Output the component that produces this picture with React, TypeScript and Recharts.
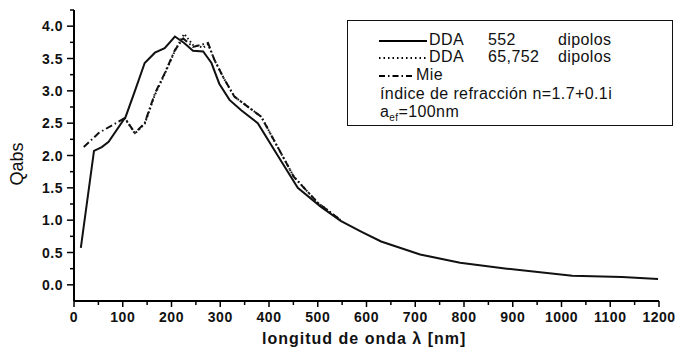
import { LineChart, Line, XAxis, YAxis } from "recharts";

// DDA 552 dipolos (solid)
const dda552 = [
  { x: 14, y: 0.57 }, { x: 41, y: 2.07 }, { x: 57, y: 2.13 }, { x: 71, y: 2.21 },
  { x: 106, y: 2.6 }, { x: 125, y: 3.0 }, { x: 145, y: 3.43 }, { x: 166, y: 3.59 },
  { x: 186, y: 3.66 }, { x: 207, y: 3.84 }, { x: 226, y: 3.74 }, { x: 244, y: 3.62 },
  { x: 265, y: 3.61 }, { x: 282, y: 3.43 }, { x: 298, y: 3.11 }, { x: 319, y: 2.86 },
  { x: 343, y: 2.7 }, { x: 377, y: 2.5 }, { x: 421, y: 1.96 }, { x: 459, y: 1.5 },
  { x: 506, y: 1.21 }, { x: 547, y: 0.99 }, { x: 590, y: 0.82 }, { x: 630, y: 0.67 },
  { x: 710, y: 0.47 }, { x: 792, y: 0.34 }, { x: 888, y: 0.25 }, { x: 1022, y: 0.14 },
  { x: 1124, y: 0.12 }, { x: 1198, y: 0.09 },
];

// DDA 65,752 dipolos (dotted)
const dda65752 = [
  { x: 104, y: 2.58 }, { x: 125, y: 2.34 }, { x: 145, y: 2.49 }, { x: 166, y: 2.94 },
  { x: 186, y: 3.26 }, { x: 207, y: 3.62 }, { x: 226, y: 3.88 }, { x: 244, y: 3.71 },
  { x: 265, y: 3.67 }, { x: 275, y: 3.72 }, { x: 288, y: 3.48 }, { x: 309, y: 3.17 },
  { x: 329, y: 2.91 }, { x: 384, y: 2.6 }, { x: 451, y: 1.67 }, { x: 500, y: 1.27 },
  { x: 547, y: 1.0 },
];

// Mie (dash-dot)
const mie = [
  { x: 20, y: 2.13 }, { x: 51, y: 2.35 }, { x: 104, y: 2.58 }, { x: 125, y: 2.35 },
  { x: 145, y: 2.5 }, { x: 166, y: 2.96 }, { x: 186, y: 3.27 }, { x: 207, y: 3.63 },
  { x: 224, y: 3.81 }, { x: 244, y: 3.68 }, { x: 275, y: 3.74 }, { x: 288, y: 3.48 },
  { x: 309, y: 3.17 }, { x: 329, y: 2.91 }, { x: 384, y: 2.6 }, { x: 451, y: 1.67 },
  { x: 500, y: 1.27 }, { x: 547, y: 1.0 },
];

const xTicks = [
  0, 50, 100, 150, 200, 250, 300, 350, 400, 450, 500, 550, 600, 650, 700, 750,
  800, 850, 900, 950, 1000, 1050, 1100, 1150, 1200,
];
const yTicks = [
  0, 0.25, 0.5, 0.75, 1, 1.25, 1.5, 1.75, 2, 2.25, 2.5, 2.75, 3, 3.25, 3.5, 3.75, 4, 4.25,
];

const font = "'Liberation Sans', Arial, sans-serif";

const XTick = (props: any) => {
  const { x, y, payload } = props;
  const major = payload.value % 100 === 0;
  return (
    <g>
      <line x1={x} x2={x} y1={y} y2={y + (major ? 6 : 4)} stroke="#000" strokeWidth={1.5} />
      {major && (
        <text x={x} y={y + 21} textAnchor="middle" fontSize={14} fontWeight="bold" fontFamily={font} fill="#111" letterSpacing={0.5}>
          {payload.value}
        </text>
      )}
    </g>
  );
};

const YTick = (props: any) => {
  const { x, y, payload } = props;
  const major = Math.abs((payload.value * 2) % 1) < 1e-6 && payload.value <= 4;
  return (
    <g>
      <line x1={x} x2={x - (major ? 7 : 4)} y1={y} y2={y} stroke="#000" strokeWidth={1.5} />
      {major && (
        <text x={x - 11} y={y + 5} textAnchor="end" fontSize={14} fontWeight="bold" fontFamily={font} fill="#111" letterSpacing={0.5}>
          {payload.value.toFixed(1)}
        </text>
      )}
    </g>
  );
};

const LegendBox = () => {
  const row = (top: number) => ({ position: "absolute" as const, top, left: 0, height: 18, width: "100%" });
  const text = { position: "absolute" as const, top: 0, fontSize: 16, lineHeight: "18px", letterSpacing: 0.4, whiteSpace: "nowrap" as const };
  return (
    <div
      style={{
        position: "absolute", left: 347, top: 20, width: 324, height: 104,
        border: "1.5px solid #111", fontFamily: font, color: "#111", background: "#fff",
      }}
    >
      <div style={row(10)}>
        <svg width={60} height={18} style={{ position: "absolute", left: 31, top: 0 }}>
          <line x1={0} x2={48} y1={10} y2={10} stroke="#000" strokeWidth={2} />
        </svg>
        <span style={{ ...text, left: 81 }}>DDA</span>
        <span style={{ ...text, left: 140 }}>552</span>
        <span style={{ ...text, left: 210 }}>dipolos</span>
      </div>
      <div style={row(27)}>
        <svg width={60} height={18} style={{ position: "absolute", left: 31, top: 0 }}>
          <line x1={0} x2={48} y1={10} y2={10} stroke="#000" strokeWidth={2} strokeDasharray="1.5 3" />
        </svg>
        <span style={{ ...text, left: 81 }}>DDA</span>
        <span style={{ ...text, left: 140 }}>65,752</span>
        <span style={{ ...text, left: 210 }}>dipolos</span>
      </div>
      <div style={row(45)}>
        <svg width={60} height={18} style={{ position: "absolute", left: 31, top: 0 }}>
          <line x1={0} x2={34} y1={10} y2={10} stroke="#000" strokeWidth={2} strokeDasharray="6 3 1.5 3" />
        </svg>
        <span style={{ ...text, left: 68 }}>Mie</span>
      </div>
      <div style={row(64)}>
        <span style={{ ...text, left: 32 }}>índice de refracción n=1.7+0.1i</span>
      </div>
      <div style={row(82)}>
        <span style={{ ...text, left: 32 }}>
          a<sub style={{ fontSize: 10, lineHeight: 0 }}>ef</sub>=100nm
        </span>
      </div>
    </div>
  );
};

export default function App() {
  return (
    <div style={{ position: "absolute", left: 0, top: 0, width: 680, height: 348, background: "#fff" }}>
      <LineChart width={680} height={348} margin={{ top: 10, right: 21, bottom: 7, left: 24 }}>
        <XAxis
          type="number"
          dataKey="x"
          domain={[0, 1200]}
          ticks={xTicks}
          interval={0}
          allowDataOverflow
          tick={<XTick />}
          tickLine={false}
          tickSize={0}
          tickMargin={0}
          height={40}
          axisLine={{ stroke: "#000", strokeWidth: 2 }}
        />
        <YAxis
          type="number"
          dataKey="y"
          domain={[-0.25, 4.25]}
          ticks={yTicks}
          interval={0}
          allowDataOverflow
          tick={<YTick />}
          tickLine={false}
          tickSize={0}
          tickMargin={0}
          width={50}
          axisLine={{ stroke: "#000", strokeWidth: 2 }}
        />
        <Line data={mie} dataKey="y" type="linear" stroke="#111" strokeWidth={2} strokeDasharray="7 3 1.5 3" dot={false} isAnimationActive={false} />
        <Line data={dda65752} dataKey="y" type="linear" stroke="#111" strokeWidth={2} strokeDasharray="1.5 2.5" dot={false} isAnimationActive={false} />
        <Line data={dda552} dataKey="y" type="linear" stroke="#111" strokeWidth={2} dot={false} isAnimationActive={false} />
      </LineChart>
      <div style={{ position: "absolute", left: 17, top: 164, transform: "translate(-50%, -50%) rotate(-90deg)", fontFamily: font, fontSize: 18, color: "#111" }}>
        Qabs
      </div>
      <div style={{ position: "absolute", left: 262, top: 330, fontFamily: font, fontSize: 16, fontWeight: "bold", color: "#111", whiteSpace: "nowrap", letterSpacing: 1, lineHeight: "18px" }}>
        longitud de onda λ [nm]
      </div>
      <LegendBox />
    </div>
  );
}
